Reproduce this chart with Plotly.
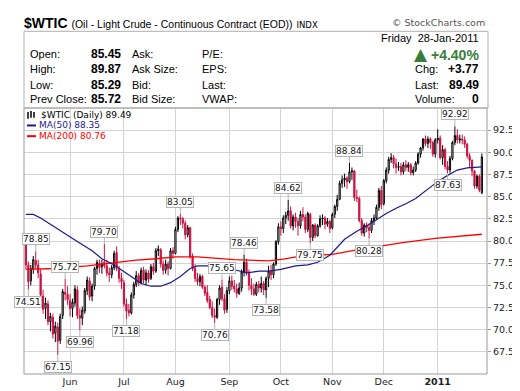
import plotly.graph_objects as go

# ---------------- data (trading-day index 0 = first bar, early May 2010) ----------------
opens = [79.6,77.3,75.5,76.8,77.8,77.3,76.3,73.8,72.4,72.9,
         70.9,71.4,69.6,70.3,68.8,71.6,74.2,74.0,73.3,72.4,
         73.0,74.5,71.6,71.3,72.1,74.4,75.5,73.8,74.9,76.9,
         77.5,77.1,77.6,77.2,76.4,76.2,77.0,78.7,76.8,75.8,
         75.3,72.9,72.2,71.9,73.9,75.1,76.1,75.3,76.7,75.6,
         76.4,75.8,77.1,76.6,78.9,79.0,77.4,76.7,77.4,76.9,
         78.9,78.6,81.3,82.6,82.5,82.0,80.7,81.5,78.3,76.9,
         75.8,75.4,76.0,74.8,74.2,73.4,72.5,71.6,71.4,73.4,
         74.8,73.5,72.3,74.4,75.5,74.9,74.6,74.1,74.7,76.5,
         77.6,76.5,75.0,74.6,74.0,75.1,74.7,75.2,74.5,75.8,
         76.6,76.2,77.4,79.9,81.6,81.4,82.6,82.9,83.4,81.7,
         82.7,82.2,81.7,83.0,82.7,81.3,83.0,80.4,81.8,80.6,
         81.7,82.5,82.6,81.9,82.2,81.5,83.0,83.9,84.7,86.5,
         86.9,87.1,86.7,87.8,87.9,84.9,84.8,82.3,80.9,81.8,
         81.5,81.2,82.3,82.6,83.8,85.7,84.2,86.8,88.0,89.2,
         89.4,88.7,88.3,88.4,87.8,88.6,88.3,88.6,87.7,88.0,
         88.8,89.8,90.5,91.5,91.0,91.5,91.1,89.8,91.4,91.6,
         89.4,90.3,88.4,88.0,89.3,91.1,91.9,91.4,91.5,91.4,
         90.9,89.6,89.1,87.9,86.2,87.3,85.45]
highs = [80.0,77.7,77.3,78.3,78.85,77.9,76.8,74.5,73.6,73.3,
         71.9,71.8,70.9,70.8,71.8,74.6,75.72,74.9,74.0,73.5,
         75.0,74.9,72.4,72.6,74.7,76.0,75.9,75.2,77.1,77.9,
         77.9,77.9,79.70,77.9,77.0,77.3,78.9,79.4,77.2,76.4,
         75.6,73.5,72.9,74.2,75.4,76.6,76.4,77.0,77.1,76.8,
         76.7,77.4,77.5,79.2,79.5,79.2,77.8,77.9,77.7,79.2,
         79.3,81.6,82.8,83.05,82.7,82.3,81.8,81.6,78.6,77.4,
         76.4,76.3,76.2,75.0,75.0,73.8,73.2,72.4,73.6,75.0,
         75.65,74.0,74.8,76.0,76.1,75.6,75.2,75.3,76.8,78.46,
         78.0,76.8,75.8,75.2,75.4,75.5,76.0,75.5,76.0,77.2,
         77.3,77.6,80.1,82.0,82.2,82.9,83.3,84.62,83.9,83.0,
         83.2,82.6,83.4,83.8,83.0,83.3,83.2,81.9,82.0,81.9,
         82.9,83.0,82.8,82.6,82.4,83.2,84.1,85.2,86.8,87.4,
         87.6,87.3,88.84,88.3,88.0,85.8,85.0,82.6,82.0,82.1,
         82.0,82.6,83.0,84.1,86.0,86.2,87.0,88.3,89.5,89.9,
         89.7,89.3,88.9,88.8,88.9,89.1,88.9,88.8,88.4,89.0,
         90.0,90.6,91.6,91.9,91.8,91.7,91.3,91.6,92.6,91.9,
         90.8,90.5,89.0,89.6,91.3,92.92,92.6,92.0,92.0,91.8,
         91.1,89.9,89.2,88.0,87.5,87.5,89.87]
lows = [76.8,74.51,75.0,76.3,76.9,75.8,73.5,71.8,71.2,70.5,
        69.8,69.0,68.6,67.15,68.4,71.2,73.3,72.8,71.5,71.4,
        72.6,71.2,69.96,70.5,71.8,73.9,73.3,73.2,74.5,76.2,
        76.4,76.3,76.9,76.0,75.4,75.8,76.7,76.6,75.3,74.6,
        72.6,71.18,71.5,71.7,73.5,74.8,74.9,75.1,75.2,75.0,
        75.3,75.6,76.2,76.4,78.3,77.0,76.2,76.3,76.1,76.8,
        78.0,78.5,81.0,81.8,81.4,80.2,80.4,78.0,76.6,75.4,
        75.0,74.9,74.6,73.8,73.0,72.3,71.3,70.76,71.2,72.8,
        73.2,71.8,71.9,74.0,74.5,74.2,73.6,73.9,74.3,76.0,
        76.1,74.4,73.9,73.8,73.8,74.2,74.2,73.9,73.58,74.8,
        75.6,75.8,77.2,79.6,80.6,80.9,81.9,82.3,81.4,81.2,
        81.5,80.6,81.4,82.2,80.9,81.0,79.75,80.0,80.3,80.5,
        81.5,81.8,81.3,81.6,80.9,81.3,82.6,83.4,84.6,86.0,
        86.1,85.9,86.5,86.9,84.5,84.4,82.1,80.6,80.5,81.0,
        80.28,80.9,81.8,82.4,83.4,83.6,84.0,86.5,87.6,88.8,
        88.2,87.6,87.9,87.4,87.5,87.9,87.8,87.4,87.4,87.8,
        88.6,89.4,90.2,90.7,90.5,90.4,89.5,89.4,91.0,89.2,
        88.6,88.1,87.63,87.7,89.1,90.8,91.0,91.0,90.9,90.5,
        89.3,88.3,87.3,85.9,85.9,85.5,85.29]
closes = [77.3,75.4,76.9,77.9,77.3,76.4,73.9,72.3,73.0,70.9,
          71.5,69.5,70.4,68.7,71.5,74.3,74.0,73.4,72.4,73.1,
          74.6,71.6,71.3,72.2,74.4,75.6,73.7,74.9,76.9,77.6,
          77.0,77.4,77.2,76.4,76.2,77.0,78.6,76.9,75.8,75.4,
          72.9,72.1,71.9,73.9,75.1,76.1,75.3,76.7,75.6,76.4,
          75.7,77.1,76.6,78.9,79.1,77.4,76.7,77.4,76.9,78.9,
          78.6,81.3,82.6,82.5,82.0,80.7,81.5,78.2,76.9,75.8,
          75.4,76.0,74.8,74.1,73.3,72.5,71.6,71.4,73.4,74.7,
          73.5,72.2,74.4,75.5,74.9,74.6,74.1,74.7,76.5,77.6,
          76.5,75.0,74.6,74.0,75.1,74.7,75.2,74.5,75.8,76.6,
          76.2,77.4,79.9,81.6,81.4,82.6,82.9,83.4,81.7,82.7,
          82.2,81.7,83.0,82.7,81.3,83.1,80.4,81.8,80.6,81.7,
          82.5,82.6,81.9,82.2,81.4,83.0,83.9,84.7,86.5,86.9,
          87.1,86.7,87.8,87.9,84.9,84.8,82.3,80.9,81.8,81.5,
          81.2,82.3,82.6,83.8,85.7,84.1,86.8,88.0,89.2,89.4,
          88.7,88.3,88.4,87.8,88.6,88.3,88.6,87.7,88.0,88.8,
          89.8,90.5,91.5,91.0,91.5,91.1,89.8,91.4,91.6,89.4,
          90.3,88.4,88.0,89.3,91.1,91.9,91.4,91.5,91.4,90.9,
          89.6,89.1,87.9,86.2,87.3,85.72,89.49]

# moving averages (trading-day index, value)
ma50_idx = [0,3,6,13,20,27,31,36,40,44,47,51,55,59,63,67,70,74,78,82,86,90,95,99,104,110,115,119,124,130,135,139,143,147,151,155,159,163,167,172,176,180,186]
ma50_val = [83.0,83.0,82.6,81.3,80.1,78.9,78.0,77.3,76.6,75.8,75.2,74.9,74.9,75.3,76.0,76.9,77.2,77.2,77.0,76.8,76.7,76.4,76.6,76.6,76.8,77.2,77.3,77.6,78.4,80.2,81.1,81.7,82.4,83.1,83.7,84.2,84.8,85.7,86.5,87.4,88.0,88.25,88.35]
ma200_idx = [0,12,25,37,45,53,61,70,85,99,105,112,125,135,153,167,180,186]
ma200_val = [76.8,76.9,77.2,77.6,77.85,78.0,78.2,78.2,77.9,77.75,77.95,78.3,78.5,79.0,79.8,80.3,80.65,80.76]

# month starts (trading-day index) and tick labels
month_idx = [18, 40, 61, 83, 104, 125, 146, 168]
month_labels = ["Jun", "Jul", "Aug", "Sep", "Oct", "Nov", "Dec", "<b>2011</b>"]

# swing labels
label_idx = [1, 4, 13, 16, 22, 32, 41, 63, 77, 80, 89, 98, 107, 116, 132, 140, 172, 175]
label_val = [74.51, 78.85, 67.15, 75.72, 69.96, 79.70, 71.18, 83.05, 70.76, 75.65, 78.46, 73.58, 84.62, 79.75, 88.84, 80.28, 87.63, 92.92]
label_dir = ["low","high","low","high","low","high","low","high","low","high","high","low","high","low","high","low","low","high"]

y_ticks = [67.5, 70.0, 72.5, 75.0, 77.5, 80.0, 82.5, 85.0, 87.5, 90.0, 92.5]

# ---------------- figure ----------------
RED = "#cc1040"
NAVY = "#1a1a8c"
N = len(closes)
xs = list(range(N))
up = [i for i in xs if i > 0 and closes[i] >= closes[i - 1]]
dn = [i for i in xs if i == 0 or closes[i] < closes[i - 1]]

def sub(arr, ids):
    return [arr[i] for i in ids]

fig = go.Figure()
fig.add_trace(go.Candlestick(
    x=up, open=sub(opens, up), high=sub(highs, up), low=sub(lows, up), close=sub(closes, up),
    increasing=dict(line=dict(color="black", width=1), fillcolor="white"),
    decreasing=dict(line=dict(color="black", width=1), fillcolor="black"),
    whiskerwidth=0, showlegend=False, hoverinfo="skip"))
fig.add_trace(go.Candlestick(
    x=dn, open=sub(opens, dn), high=sub(highs, dn), low=sub(lows, dn), close=sub(closes, dn),
    increasing=dict(line=dict(color=RED, width=1), fillcolor="white"),
    decreasing=dict(line=dict(color=RED, width=1), fillcolor=RED),
    whiskerwidth=0, showlegend=False, hoverinfo="skip"))
fig.add_trace(go.Scatter(x=ma200_idx, y=ma200_val, mode="lines",
                         line=dict(color="#ff0000", width=1.3), showlegend=False, hoverinfo="skip"))
fig.add_trace(go.Scatter(x=ma50_idx, y=ma50_val, mode="lines",
                         line=dict(color=NAVY, width=1.2), showlegend=False, hoverinfo="skip"))

# plot area in pixels
L, R, T, B = 16, 479, 100, 374
W, H = 520, 391
def xp(px):
    return (px - L) / (R - L)
def yp(py):
    return (B - py) / (B - T)

GRID = "#d4d4d4"
AX = "#9a9a9a"
fig.update_layout(
    width=W, height=H, margin=dict(l=L, r=W - R, t=T, b=H - B),
    paper_bgcolor="white", plot_bgcolor="white", hovermode=False,
    xaxis=dict(range=[-0.78, 188.1], tickvals=month_idx, ticktext=month_labels,
               showgrid=True, gridcolor=GRID, gridwidth=1, zeroline=False,
               rangeslider=dict(visible=False), showline=False, ticks="",
               tickfont=dict(family="DejaVu Sans", size=9.5, color="#222")),
    yaxis=dict(range=[65, 95], side="right", tickvals=y_ticks, tickformat=".1f",
               showgrid=True, gridcolor=GRID, gridwidth=1, zeroline=False,
               showline=False, ticks="outside", ticklen=3, tickcolor=AX,
               tickfont=dict(family="DejaVu Sans", size=9.5, color="#222")),
)

# frame of the price panel
fig.add_shape(type="rect", xref="paper", yref="paper", x0=0, x1=1, y0=0, y1=1,
              line=dict(color=AX, width=1), layer="above")
# header box
fig.add_shape(type="rect", xref="paper", yref="paper", x0=xp(16), x1=xp(480), y0=yp(100), y1=yp(21),
              line=dict(color="#b0b0b0", width=1))

# swing labels
for i, v, d in zip(label_idx, label_val, label_dir):
    fig.add_annotation(x=i, y=v, xref="x", yref="y", text=f"{v:.2f}",
                       showarrow=True, arrowhead=0, arrowwidth=1, arrowcolor="#b5b5b5",
                       ax=0, ay=(-12 if d == "high" else 12), standoff=0,
                       font=dict(family="DejaVu Sans", size=9, color="#111"),
                       bgcolor="white", bordercolor="#b5b5b5", borderwidth=1, borderpad=0)

def txt(text, px, py, anchor="left", size=11, color="black", family="Liberation Sans"):
    fig.add_annotation(xref="paper", yref="paper", x=xp(px), y=yp(py), text=text,
                       showarrow=False, xanchor=anchor, yanchor="middle",
                       font=dict(family=family, size=size, color=color))

# title line
txt("<b>$WTIC</b> <span style='font-size:10.5px'>(Oil - Light Crude - Continuous Contract (EOD))</span>"
    " <span style='font-size:8.5px;font-family:DejaVu Sans'>INDX</span>",
    14, 12, size=14)
txt("© StockCharts.com", 479, 12, anchor="right", size=9.5, color="#555", family="DejaVu Sans")

# header box contents
last_c = closes[-1]
prev_c = closes[-2]
chg = last_c - prev_c
pct = chg / prev_c * 100
rows_y = [44, 60, 76, 91]
txt("Friday&nbsp;&nbsp;28-Jan-2011", 473, 28, anchor="right")
for lab, val, y in zip(["Open:", "High:", "Low:", "Prev Close:"],
                       [opens[-1], highs[-1], lows[-1], prev_c], rows_y):
    txt(lab, 20, y)
    txt(f"<b>{val:.2f}</b>", 81, y, size=12)
for lab, y in zip(["Ask:", "Ask Size:", "Bid:", "Bid Size:"], rows_y):
    txt(lab, 122, y)
for lab, y in zip(["P/E:", "EPS:", "Last:", "VWAP:"], rows_y):
    txt(lab, 192, y)
txt(f"<span style='font-size:17px;font-family:DejaVu Sans'>▲</span> <b>{pct:+.2f}%</b>",
    473, 44, anchor="right", size=14, color="#3a7d3a")
txt("Chg:", 405, 60)
txt(f"<b>{chg:+.2f}</b>", 473, 60, anchor="right", size=12)
txt("Last:", 405, 76)
txt(f"<b>{last_c:.2f}</b>", 473, 76, anchor="right", size=12)
txt("Volume:", 405, 91)
txt("<b>0</b>", 473, 91, anchor="right", size=12)

# in-chart legend
for x0, y0, y1 in [(20, 104, 111), (23, 103, 110), (26, 104, 110)]:
    fig.add_shape(type="line", xref="paper", yref="paper", x0=xp(x0), x1=xp(x0), y0=yp(y0), y1=yp(y1),
                  line=dict(color="black", width=1.5))
txt(f"$WTIC (Daily) {last_c:.2f}", 31, 107, size=9, family="DejaVu Sans")
fig.add_shape(type="line", xref="paper", yref="paper", x0=xp(19), x1=xp(28), y0=yp(118), y1=yp(118),
              line=dict(color=NAVY, width=2))
txt(f"MA(50) {ma50_val[-1]:.2f}", 29, 118, size=9, color=NAVY, family="DejaVu Sans")
fig.add_shape(type="line", xref="paper", yref="paper", x0=xp(19), x1=xp(28), y0=yp(129), y1=yp(129),
              line=dict(color="#ff0000", width=2))
txt(f"MA(200) {ma200_val[-1]:.2f}", 29, 129, size=9, color="#ff0000", family="DejaVu Sans")

fig.write_html("out.html")
